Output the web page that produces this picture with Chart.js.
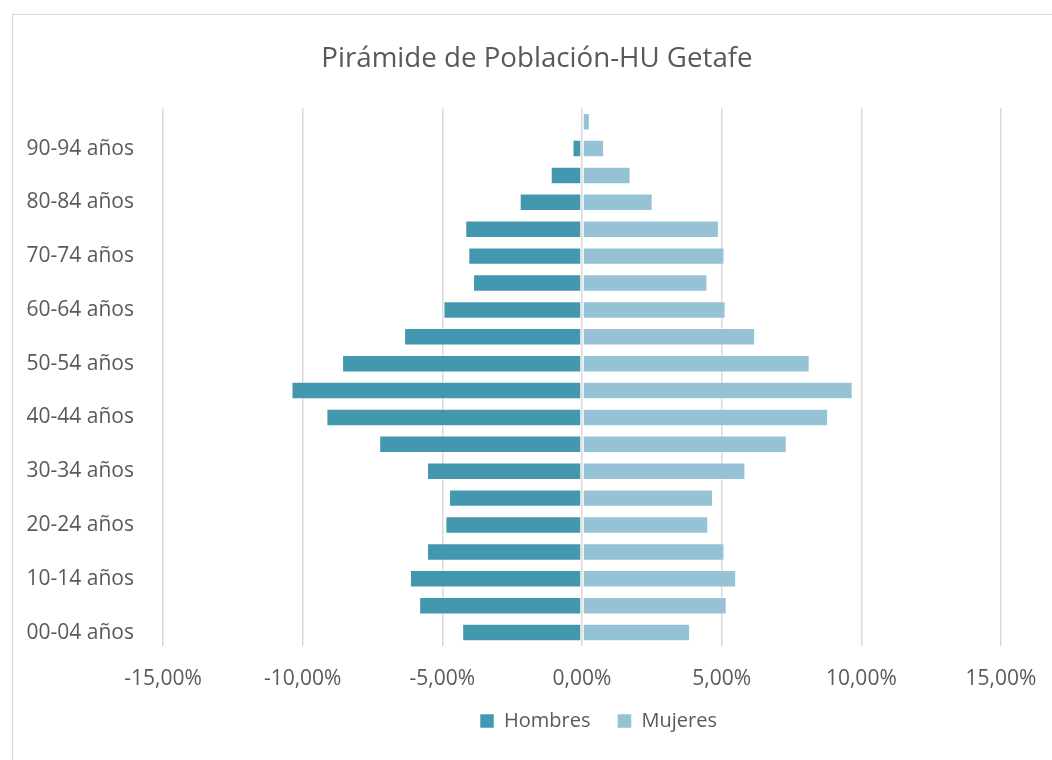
<!DOCTYPE html>
<html>
<head>
<meta charset="utf-8">
<script src="https://cdn.jsdelivr.net/npm/chart.js@4.4.1/dist/chart.umd.min.js"></script>
<style>
  html, body { margin: 0; padding: 0; background: #fff; }
  #wrap { position: absolute; left: 0; top: 0; width: 1052px; height: 760px; overflow: hidden; }
  #frame { position: absolute; left: 12px; top: 14px; width: 1100px; height: 800px; border: 1px solid #d9d9d9; box-sizing: border-box; }
  canvas { position: absolute; left: 0; top: 0; }
</style>
</head>
<body>
<div id="wrap">
  <div id="frame"></div>
  <canvas id="c" width="1062" height="760"></canvas>
</div>
<script>
const categories = ["00-04 años","05-09 años","10-14 años","15-19 años","20-24 años","25-29 años","30-34 años","35-39 años","40-44 años","45-49 años","50-54 años","55-59 años","60-64 años","65-69 años","70-74 años","75-79 años","80-84 años","85-89 años","90-94 años","95+ años"];
const hombres = [-4.29,-5.83,-6.16,-5.55,-4.89,-4.76,-5.55,-7.26,-9.15,-10.40,-8.59,-6.37,-4.96,-3.90,-4.07,-4.18,-2.23,-1.12,-0.34,-0.06];
const mujeres = [3.87,5.18,5.52,5.10,4.52,4.69,5.85,7.33,8.81,9.69,8.15,6.20,5.14,4.49,5.10,4.90,2.53,1.74,0.79,0.28];
const xTicks = [-15,-10,-5,0,5,10,15];
const titleText = "Pirámide de Población-HU Getafe";
const seriesNames = ["Hombres","Mujeres"];

const FONT = "'Open Sans', sans-serif";
const TXT = "#595959";

const legendShift = {
  id: 'legendShift',
  afterLayout(chart) {
    const lg = chart.legend;
    if (!lg || !lg.lineWidths) return;
    const pad = lg.options.labels.padding;
    const start = (lg.left + pad + lg.right - lg.lineWidths[0]) / 2;
    const delta = 480 - start;
    lg.left += delta; lg.right += delta;
    lg.top -= 16; lg.bottom -= 16;
  }
};

new Chart(document.getElementById('c'), {
  type: 'bar',
  data: {
    labels: categories,
    datasets: [
      { label: seriesNames[0], data: hombres, backgroundColor: '#4398b0', borderColor: 'rgba(255,255,255,0.5)', borderWidth: 1, borderSkipped: false, barPercentage: 0.65, categoryPercentage: 1 },
      { label: seriesNames[1], data: mujeres, backgroundColor: '#95c3d5', borderColor: 'rgba(255,255,255,0.5)', borderWidth: 1, borderSkipped: false, barPercentage: 0.65, categoryPercentage: 1 }
    ]
  },
  plugins: [legendShift],
  options: {
    indexAxis: 'y',
    responsive: false,
    animation: false,
    devicePixelRatio: 1,
    layout: { padding: { left: 12, right: 0, top: 14, bottom: 3 } },
    plugins: {
      title: { display: true, text: titleText, color: TXT, font: { family: FONT, size: 27.7, weight: 'normal' }, padding: { top: 28, bottom: 33 } },
      legend: {
        position: 'bottom',
        labels: { color: TXT, font: { family: FONT, size: 20 }, boxWidth: 14, boxHeight: 14, padding: 27 }
      },
      tooltip: { enabled: false }
    },
    scales: {
      x: {
        stacked: true,
        min: -15, max: 15,
        afterBuildTicks: (s) => { s.ticks = xTicks.map(v => ({ value: v })); },
        afterFit: (s) => { s.height = 54; s.paddingRight = 61; },
        ticks: { color: TXT, font: { family: FONT, size: 21 }, padding: 20, callback: (v) => v.toFixed(2).replace('.', ',') + '%' },
        grid: { color: '#d9d9d9', lineWidth: 1.5, drawTicks: false },
        border: { display: false }
      },
      y: {
        stacked: true,
        reverse: true,
        afterFit: (s) => { s.width = 151; },
        ticks: { color: TXT, font: { family: FONT, size: 21 }, padding: 21, autoSkip: false,
          callback: function(v, i) { return i % 2 === 0 ? this.getLabelForValue(v) : ''; } },
        grid: { display: false },
        border: { display: false }
      }
    }
  }
});
</script>
</body>
</html>
